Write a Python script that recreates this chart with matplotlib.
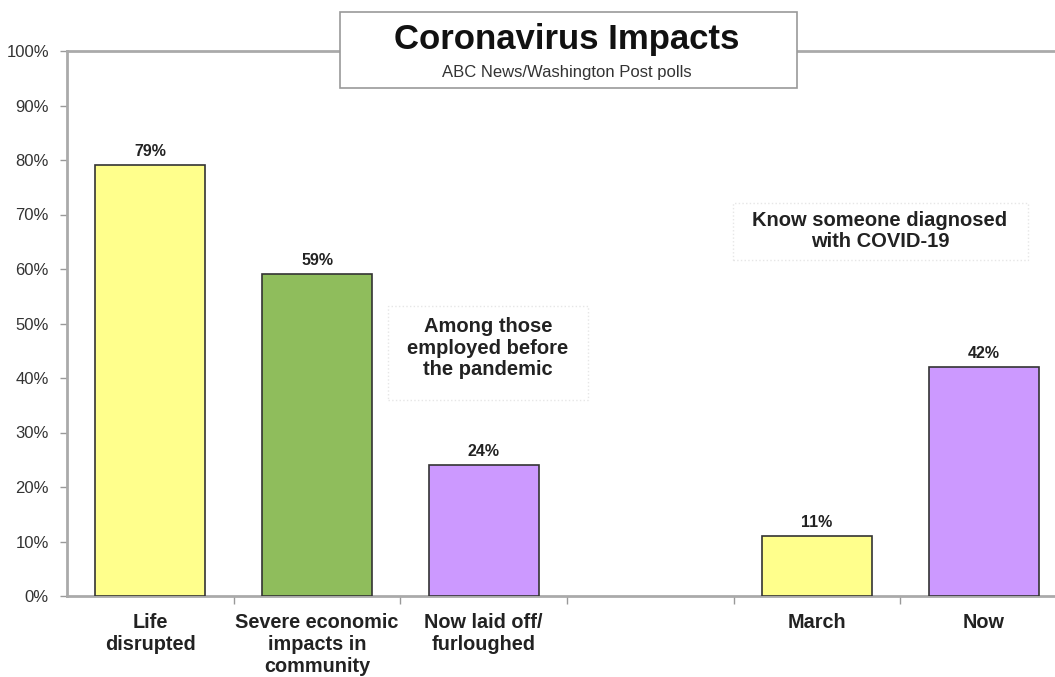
import matplotlib.pyplot as plt
from matplotlib.ticker import PercentFormatter

plt.rcParams['font.family'] = ['Liberation Sans', 'DejaVu Sans']

labels = ["Life\ndisrupted", "Severe economic\nimpacts in\ncommunity",
          "Now laid off/\nfurloughed", "March", "Now"]
values = [79, 59, 24, 11, 42]
colours = ["#ffff8c", "#8fbd5c", "#cc99ff", "#ffff8c", "#cc99ff"]
title = "Coronavirus Impacts"
subtitle = "ABC News/Washington Post polls"
note_left = "Among those\nemployed before\nthe pandemic"
note_right = "Know someone diagnosed\nwith COVID-19"

# slot 3 is left empty to split the two groups
slots = [0, 1, 2, 4, 5]

W, H = 1055, 677
fig = plt.figure(figsize=(W / 100, H / 100), dpi=100)
ax = fig.add_axes([67 / W, 1 - 596 / H, 1000 / W, 545 / H])


def px_box(x0, y0, x1, y1, **kw):
    # rectangle given in pixel coords measured from the top-left corner
    r = plt.Rectangle((x0 / W, 1 - y1 / H), (x1 - x0) / W, (y1 - y0) / H,
                      transform=fig.transFigure, **kw)
    fig.patches.append(r)


bars = ax.bar(slots, values, width=0.66, color=colours,
              edgecolor="#333333", linewidth=1.2, zorder=3)
for b, v in zip(bars, values):
    ax.text(b.get_x() + b.get_width() / 2, v + 1.2, f"{v}%",
            ha="center", va="bottom", fontsize=11.5, fontweight="bold",
            color="#222222")

ax.set_xlim(-0.5, 5.5)
ax.set_ylim(0, 100)
ax.set_yticks(range(0, 101, 10))
ax.yaxis.set_major_formatter(PercentFormatter(decimals=0))
ax.tick_params(axis="y", length=5, width=1, color="#999999",
               labelsize=12, labelcolor="#333333", pad=8)

ax.set_xticks(slots)
ax.set_xticklabels(labels, fontsize=14.3, fontweight="bold", color="#222222",
                   linespacing=1.22, va="top")
ax.tick_params(axis="x", length=0, pad=12)
ax.set_xticks([0.5, 1.5, 2.5, 3.5, 4.5], minor=True)
ax.tick_params(axis="x", which="minor", length=6, width=1, color="#999999")

for side in ["left", "bottom", "top"]:
    ax.spines[side].set_color("#aaaaaa")
    ax.spines[side].set_linewidth(2)
ax.spines["right"].set_visible(False)

# title block
px_box(340, 12, 797, 88, facecolor="white", edgecolor="#999999",
       linewidth=1.2, zorder=5)
fig.text(567 / W, 1 - 40 / H, title, ha="center", va="center",
         fontsize=25, fontweight="bold", color="#111111", zorder=6)
fig.text(567 / W, 1 - 72 / H, subtitle, ha="center", va="center",
         fontsize=12, color="#333333", zorder=6)

# group notes
px_box(388, 306, 588, 400, facecolor="white", edgecolor="#e6e6e6",
       linestyle=":", linewidth=1, zorder=4)
fig.text(488 / W, 1 - 348 / H, note_left, ha="center", va="center",
         fontsize=14.5, fontweight="bold", color="#222222", linespacing=1.15,
         zorder=6)
px_box(733, 203, 1028, 260, facecolor="white", edgecolor="#e6e6e6",
       linestyle=":", linewidth=1, zorder=4)
fig.text(880 / W, 1 - 231 / H, note_right, ha="center", va="center",
         fontsize=14.5, fontweight="bold", color="#222222", linespacing=1.15,
         zorder=6)

fig.savefig("out.png", dpi=100)
